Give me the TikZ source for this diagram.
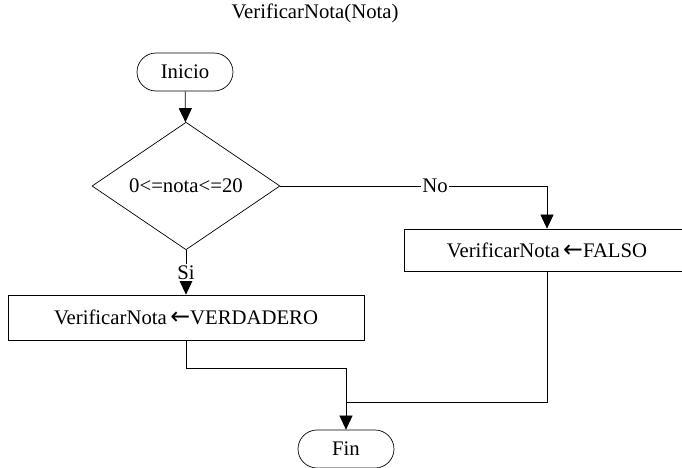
\documentclass[tikz,border=0pt]{standalone}
\usepackage{fontspec}
\setmainfont{Liberation Serif}
\newfontfamily\flecha{DejaVu Sans}
\usetikzlibrary{shapes.geometric, shapes.misc, arrows.meta, positioning}
\tikzset{
x=0.02cm, y=-0.02cm, % one unit per pixel, y pointing down
line width=0.6pt,
>={Triangle[length=8pt, width=7.4pt]}, % filled heads on the flow lines
every node/.style={font=\fontsize{11.8}{14}\selectfont},
terminal/.style={draw, rounded rectangle, minimum width=1.92cm, minimum height=0.76cm, inner sep=0pt},
decision/.style={draw, diamond, minimum width=3.76cm, minimum height=2.24cm, inner sep=0pt},
process/.style={draw, rectangle, inner sep=0pt},
tag/.style={fill=white, inner sep=1pt}, % labels sitting on a line
}
\newcommand{\asig}{\,{\flecha\fontsize{13.5}{14}\selectfont ←}}

\begin{document}
\begin{tikzpicture}
\useasboundingbox (0,0) rectangle (682,467);
\node (titulo) at (315,13) {VerificarNota(Nota)};
\node[terminal] (inicio) at (185,72) {Inicio};
\node[decision] (cond) at (186,186) {0<=nota<=20};
\node[process, minimum width=7.12cm, minimum height=0.9cm] (verd) at (186,317.5) {VerificarNota\asig VERDADERO};
\node[process, minimum width=5.72cm, minimum height=0.84cm] (falso) at (547,250) {VerificarNota\asig FALSO};
\node[terminal] (fin) at (346,449) {Fin};
\coordinate (junta) at (346,402); % where both branches meet

\draw[->] (inicio) -- (cond);
\draw[->] (cond.east) -| node[tag, pos=0.29] {No} (falso.north);
\draw[->] (cond.south) -- node[tag] {Si} (verd.north);
\draw[->] (verd.south) -- ++(0,28) -| (fin.north);
\draw (falso.south) |- (junta);
\end{tikzpicture}
\end{document}
